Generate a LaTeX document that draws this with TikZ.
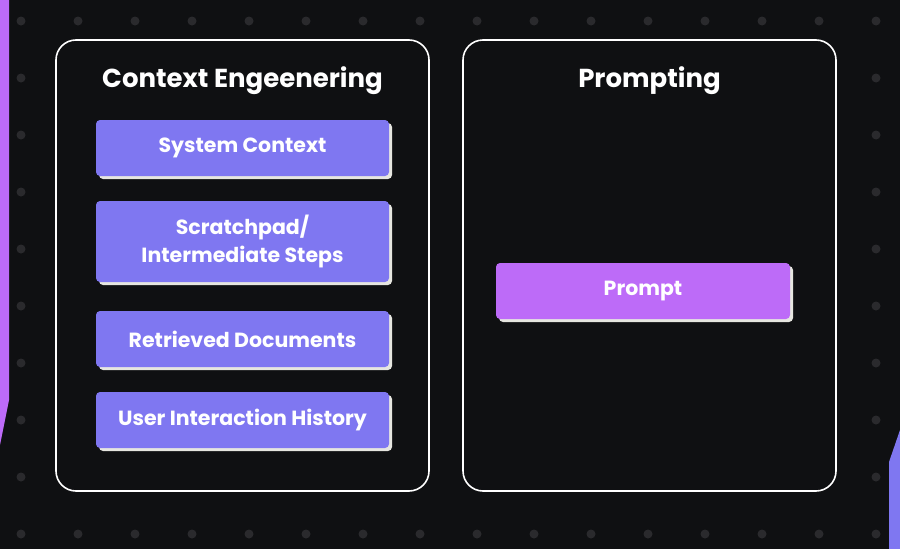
\documentclass[tikz,border=0pt]{standalone}
\usepackage{fontspec}
\setmainfont{Poppins}
\usepackage{xcolor}
\usetikzlibrary{shadows}
\definecolor{bgdark}{HTML}{0F1012}
\definecolor{dotgray}{HTML}{2A2A2D}
\definecolor{ctxblue}{HTML}{7F77F1}
\definecolor{prmpurple}{HTML}{BD6BF8}
\definecolor{shadegray}{HTML}{E6E6E0}

\begin{document}
\begin{tikzpicture}[x=1pt, y=-1pt,
    panel/.style={draw=white, line width=1.6pt, rounded corners=20pt},
    title/.style={text=white, font=\bfseries\fontsize{26}{30}\selectfont},
    card/.style={rounded corners=4pt, text=white, align=center, inner sep=0pt,
        minimum width=293pt, font=\bfseries\fontsize{20.5}{28}\selectfont,
        drop shadow={shadow xshift=3pt, shadow yshift=-3pt, fill=shadegray, opacity=1}}]
    \useasboundingbox (0,0) rectangle (900,549);
    \fill[bgdark] (0,0) rectangle (900,549);

    % background dots
    \foreach \i in {0,...,15}
        \foreach \j in {0,...,9}
            \fill[dotgray] (21+57*\i, 21+57*\j) circle (4.5pt);

    % side strips
    \fill[prmpurple] (0,0) -- (9,0) -- (9,400) -- (0,445) -- cycle;
    \fill[ctxblue] (889,462) -- (900,430) -- (900,549) -- (889,549) -- cycle;

    % panels
    \fill[bgdark] (56,40) rectangle (429,491);
    \fill[bgdark] (463,40) rectangle (836,491);
    \draw[panel] (56,40) rectangle (429,491);
    \draw[panel] (463,40) rectangle (836,491);
    \node[title] (ctxtitle) at (242.5,81) {Context Engeenering};
    \node[title] (prmtitle) at (649.5,81) {Prompting};

    % context cards
    \node[card, fill=ctxblue, minimum height=56pt] (syscontext) at (242.5,148) {System Context};
    \node[card, fill=ctxblue, minimum height=81pt] (scratchpad) at (242.5,241.5) {Scratchpad/\\Intermediate Steps};
    \node[card, fill=ctxblue, minimum height=56pt] (retrieved) at (242.5,339) {Retrieved Documents};
    \node[card, fill=ctxblue, minimum height=56pt] (history) at (242.5,420) {User Interaction History};

    % prompt card
    \node[card, fill=prmpurple, minimum width=294pt, minimum height=56pt] (prompt) at (643,291) {Prompt};
\end{tikzpicture}
\end{document}
